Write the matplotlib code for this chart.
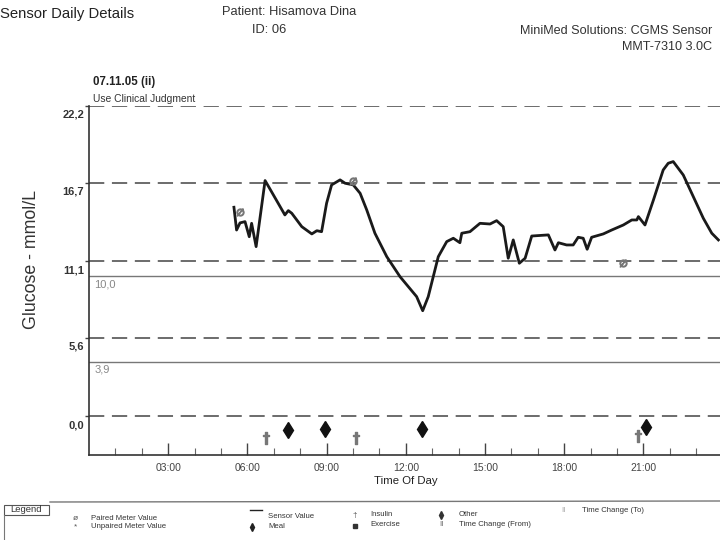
import matplotlib
matplotlib.use("Agg")
import matplotlib.pyplot as plt
from matplotlib import font_manager
from matplotlib.transforms import ScaledTranslation
from matplotlib.lines import Line2D
from matplotlib.patches import Rectangle

# ---------------- data ----------------
sensor_hours = [5.49, 5.59, 5.72, 5.91, 6.07, 6.16, 6.33, 6.67, 6.86, 7.42, 7.55, 7.68,
                8.06, 8.44, 8.63, 8.81, 9.00, 9.19, 9.51, 9.70, 10.01, 10.27, 10.52,
                10.83, 11.28, 11.78, 12.41, 12.64, 12.85, 13.23, 13.55, 13.80, 14.05,
                14.12, 14.43, 14.81, 15.19, 15.44, 15.69, 15.88, 16.07, 16.30, 16.52,
                16.77, 17.40, 17.65, 17.78, 18.09, 18.34, 18.53, 18.72, 18.87, 19.04,
                19.48, 19.80, 20.24, 20.56, 20.75, 20.81, 21.06, 21.38, 21.75, 21.94,
                22.13, 22.51, 22.89, 23.27, 23.59, 23.84]
sensor_values = [14.95, 13.32, 13.83, 13.92, 12.84, 13.80, 12.13, 16.86, 16.24, 14.40,
                 14.71, 14.52, 13.56, 13.04, 13.27, 13.20, 15.24, 16.55, 16.91, 16.67,
                 16.55, 15.95, 14.76, 13.09, 11.41, 9.98, 8.55, 7.54, 8.55, 11.41, 12.49,
                 12.73, 12.41, 13.09, 13.20, 13.80, 13.75, 13.99, 13.56, 11.30, 12.61,
                 10.94, 11.30, 12.89, 12.97, 11.89, 12.41, 12.25, 12.25, 12.80, 12.73,
                 11.94, 12.80, 13.04, 13.32, 13.68, 14.04, 14.04, 14.28, 13.68, 15.47,
                 17.62, 18.10, 18.22, 17.26, 15.71, 14.16, 13.09, 12.61]

paired_hours = [5.72, 10.01, 20.24]
paired_values = [14.64, 16.86, 10.94]

insulin_hours = [6.69, 10.10, 20.80]
insulin_values = [-1.6, -1.55, -1.4]
meal_hours = [7.54, 8.95, 12.60, 21.10]
meal_values = [-1.0, -0.95, -0.95, -0.75]

ref_dashed = [22.2, 16.7, 11.1, 5.6, 0.0]
ytick_labels = ["22,2", "16,7", "11,1", "5,6", "0,0"]
target_lines = [10.0, 3.9]
target_labels = ["10,0", "3,9"]
xtick_hours = [3, 6, 9, 12, 15, 18, 21]
xtick_labels = ["03:00", "06:00", "09:00", "12:00", "15:00", "18:00", "21:00"]

# ---------------- fonts ----------------
names = {f.name for f in font_manager.fontManager.ttflist}
narrow = "Liberation Sans Narrow" if "Liberation Sans Narrow" in names else "Liberation Sans"
plt.rcParams["font.family"] = [narrow, "DejaVu Sans"]

W, H = 720, 540
fig = plt.figure(figsize=(7.2, 5.4), dpi=100)
fig.patch.set_facecolor("white")

def ft(x, y, s, **kw):
    return fig.text(x / W, 1 - y / H, s, **kw)

ax = fig.add_axes([89 / W, 1 - 455 / H, 633.6 / W, 349 / H])
ax.set_xlim(0, 24)
ax.set_ylim(-2.79, 22.2)

for v in ref_dashed:
    ax.axhline(v, color="#444444", lw=1.1, dashes=(10, 5), zorder=1)
for v, lab in zip(target_lines, target_labels):
    ax.axhline(v, color="#777777", lw=1.0, zorder=1)
    ax.text(0.2, v, lab, fontsize=8, color="#888888", va="top", ha="left",
            transform=ax.transData + ScaledTranslation(0, -3 / 100, fig.dpi_scale_trans))

ax.plot(sensor_hours, sensor_values, color="#1a1a1a", lw=2.0, zorder=3)
ax.plot(paired_hours, paired_values, linestyle="none", marker="$\\emptyset$",
        markersize=5, color="#777777", zorder=4)
ax.plot(meal_hours, meal_values, linestyle="none", marker="d", markersize=8.5,
        color="#111111", zorder=4)
ax.plot(insulin_hours, insulin_values, linestyle="none", marker="$\u2020$",
        markersize=9, color="#777777", zorder=4)

for s in ["top", "right"]:
    ax.spines[s].set_visible(False)
for s in ["left", "bottom"]:
    ax.spines[s].set_color("#333333")
    ax.spines[s].set_linewidth(1.2)

ax.set_xticks(xtick_hours)
ax.set_xticklabels(xtick_labels, fontsize=7.5, color="#444444")
ax.set_xticks(range(1, 24), minor=True)
ax.tick_params(axis="x", which="major", direction="in", length=9, width=1, color="#444444", pad=6)
ax.tick_params(axis="x", which="minor", direction="in", length=5, width=0.8, color="#666666")

ax.set_yticks(ref_dashed)
ax.set_yticklabels(ytick_labels, fontsize=8, color="#333333", fontweight="bold")
ax.tick_params(axis="y", which="major", direction="out", length=3, width=1, color="#444444", pad=0.5)
for lab in ax.get_yticklabels():
    lab.set_transform(lab.get_transform() + ScaledTranslation(0, -8 / 100, fig.dpi_scale_trans))

# ---------------- header text ----------------
ft(0, 14, "Sensor Daily Details", fontsize=10.7, color="#222222", va="center", ha="left")
ft(222, 12, "Patient: Hisamova Dina", fontsize=9.3, color="#333333", va="center", ha="left")
ft(252, 30, "ID: 06", fontsize=9.3, color="#333333", va="center", ha="left")
ft(712, 31, "MiniMed Solutions: CGMS Sensor", fontsize=9.1, color="#333333", va="center", ha="right")
ft(712, 47, "MMT-7310 3.0C", fontsize=9.1, color="#333333", va="center", ha="right")
ft(93, 82, "07.11.05 (ii)", fontsize=8.3, color="#222222", va="center", ha="left", fontweight="bold")
ft(93, 99, "Use Clinical Judgment", fontsize=7.4, color="#333333", va="center", ha="left")

ft(32, 260, "Glucose - mmol/L", fontsize=12.8, color="#333333", va="center", ha="center", rotation=90)
ft(406, 481, "Time Of Day", fontsize=8.2, color="#222222", va="center", ha="center")

# ---------------- legend strip ----------------
fig.add_artist(Line2D([50 / W, 1.0], [1 - 502 / H, 1 - 501 / H], color="#777777", lw=1.0))
fig.add_artist(Rectangle((4 / W, 1 - 515 / H), 45 / W, 10 / H, fill=False, ec="#555555", lw=0.8))
fig.add_artist(Line2D([4 / W, 4 / W], [1 - 515 / H, 0], color="#777777", lw=0.8))
ft(26, 510, "Legend", fontsize=6.8, color="#333333", va="center", ha="center")

lfs = 5.6
lc = "#333333"
ft(75, 518, "\u00f8", fontsize=6, color="#555555", va="center", ha="center")
ft(91, 518, "Paired Meter Value", fontsize=lfs, color=lc, va="center", ha="left")
ft(75, 527, "*", fontsize=6, color="#555555", va="center", ha="center")
ft(91, 527, "Unpaired Meter Value", fontsize=lfs, color=lc, va="center", ha="left")
fig.add_artist(Line2D([250 / W, 262 / W], [1 - 510 / H] * 2, color="#222222", lw=1.0))
ft(268, 516, "Sensor Value", fontsize=lfs, color=lc, va="center", ha="left")
fig.add_artist(Line2D([252 / W], [1 - 527 / H], marker="d", markersize=4, color="#222222", linestyle="none"))
ft(268, 527, "Meal", fontsize=lfs, color=lc, va="center", ha="left")
ft(355, 515, "\u2020", fontsize=6, color="#555555", va="center", ha="center")
ft(370, 515, "Insulin", fontsize=lfs, color=lc, va="center", ha="left")
fig.add_artist(Line2D([355 / W], [1 - 526 / H], marker="s", markersize=3, color="#333333", linestyle="none"))
ft(370, 525, "Exercise", fontsize=lfs, color=lc, va="center", ha="left")
fig.add_artist(Line2D([441 / W], [1 - 515 / H], marker="d", markersize=4, color="#333333", linestyle="none"))
ft(459, 515, "Other", fontsize=lfs, color=lc, va="center", ha="left")
ft(441, 525, "\u01c1", fontsize=6, color="#555555", va="center", ha="center")
ft(459, 525, "Time Change (From)", fontsize=lfs, color=lc, va="center", ha="left")
ft(563, 511, "\u01c1", fontsize=6, color="#999999", va="center", ha="center")
ft(582, 511, "Time Change (To)", fontsize=lfs, color=lc, va="center", ha="left")

fig.savefig("out.png", dpi=100)
